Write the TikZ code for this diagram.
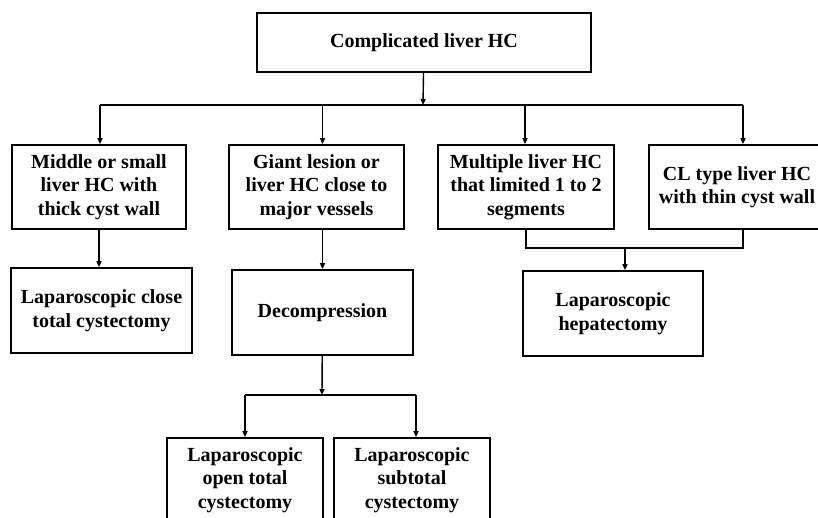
\documentclass[tikz,border=0pt]{standalone}
\usepackage{fontspec}
\setmainfont{Liberation Serif}
\usepackage{tikz}
\usetikzlibrary{positioning, arrows.meta, calc}

\begin{document}
\begin{tikzpicture}[x=1pt, y=-1pt, >={Triangle[length=6pt, width=5pt]}, line width=1.4pt,
  box/.style={draw, line width=1.7pt, align=center, inner sep=2pt, minimum height=84pt, minimum width=176pt, font=\bfseries\fontsize{20}{23.5}\selectfont}]

\useasboundingbox (0,0) rectangle (818,517);

% top level
\node[box, minimum width=334pt, minimum height=59pt] (top) at (424,42.5) {Complicated liver HC};

% second row
\node[box, minimum width=174pt] (small)  at (99,187)   {Middle or small\\liver HC with\\thick cyst wall};
\node[box, minimum width=175pt] (giant)  at (316.5,187) {Giant lesion or\\liver HC close to\\major vessels};
\node[box]                      (multi)  at (526,187)  {Multiple liver HC\\that limited 1 to 2\\segments};
\node[box]                      (cltype) at (737,187)  {CL type liver HC\\with thin cyst wall};

% third row
\node[box, minimum width=181pt, minimum height=85pt] (close) at (101.5,310.5) {Laparoscopic close\\total cystectomy};
\node[box, minimum width=181pt, minimum height=85pt] (decomp) at (322.5,312.5) {Decompression};
\node[box, minimum width=180pt, minimum height=85pt] (hepat) at (613,313.5) {Laparoscopic\\hepatectomy};

% last row
\node[box, minimum width=156pt] (opentot) at (245,480) {Laparoscopic\\open total\\cystectomy};
\node[box, minimum width=156pt] (subtot)  at (412,480) {Laparoscopic\\subtotal\\cystectomy};

% junctions
\coordinate (tj) at (423,105);
\coordinate (mj) at (625,248);
\coordinate (dj) at (322,395);

\draw[->] (top) -- (tj);
\draw ([xshift=1pt]small.north |- tj) -- ([xshift=6pt]cltype.north |- tj);
\draw[->] ([xshift=1pt]small.north |- tj) -- ([xshift=1pt]small.north);
\draw[->] (decomp.north |- tj) -- (decomp.north |- giant.north);
\draw[->] ([xshift=-1pt]multi.north |- tj) -- ([xshift=-1pt]multi.north);
\draw[->] ([xshift=6pt]cltype.north |- tj) -- ([xshift=6pt]cltype.north);

\draw[->] (small.south) -- (small.south |- close.north);
\draw[->] (decomp.north |- giant.south) -- (decomp.north);

\draw (multi.south) |- (mj) -| ([xshift=6pt]cltype.south);
\draw[->] (mj) -- (mj |- hepat.north);

\draw[->] (decomp) -- (dj);
\draw (opentot.north |- dj) -- ([xshift=4pt]subtot.north |- dj);
\draw[->] (opentot.north |- dj) -- (opentot.north);
\draw[->] ([xshift=4pt]subtot.north |- dj) -- ([xshift=4pt]subtot.north);

\end{tikzpicture}
\end{document}
